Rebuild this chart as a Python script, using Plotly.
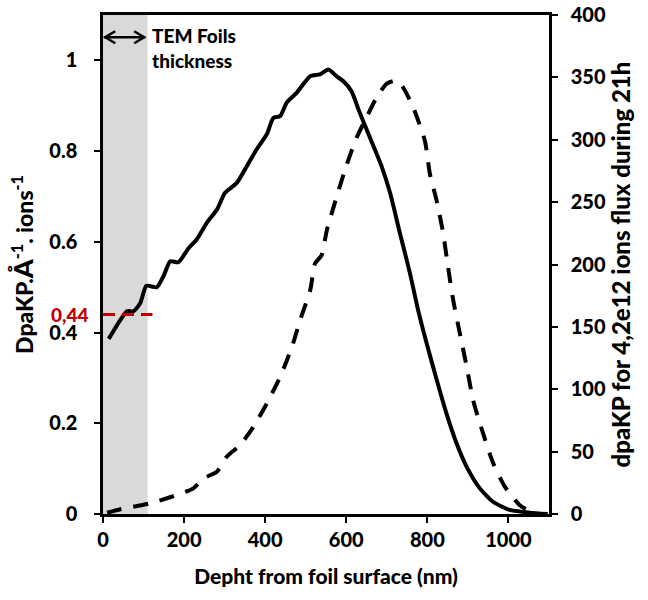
import plotly.graph_objects as go

# --- data ---
depth_dpa = [14, 43, 59, 75, 92, 107, 133, 149, 166, 186, 211, 231, 256, 281, 301, 330, 355, 379, 404,
             420, 437, 453, 478, 511, 535, 556, 576, 593, 613, 630, 650, 687, 708, 732, 757, 777, 798,
             823, 847, 872, 897, 929, 962, 1003, 1052, 1097]
dpa_per_ion = [0.386, 0.428, 0.447, 0.447, 0.465, 0.503, 0.500, 0.524, 0.557, 0.555, 0.586, 0.605, 0.642,
               0.671, 0.708, 0.730, 0.767, 0.804, 0.837, 0.873, 0.877, 0.907, 0.929, 0.965, 0.969, 0.980,
               0.965, 0.954, 0.932, 0.892, 0.848, 0.767, 0.708, 0.620, 0.531, 0.450, 0.377, 0.296, 0.222,
               0.156, 0.104, 0.057, 0.027, 0.009, 0.003, 0.0]

depth_flux = [10, 43, 116, 182, 223, 248, 281, 305, 338, 371, 404, 437, 466, 486, 511, 523, 539, 552, 576,
              601, 626, 650, 675, 700, 724, 740, 765, 794, 806, 823, 839, 851, 864, 880, 897, 913, 937,
              962, 991, 1028, 1055]
dpa_flux = [1.0, 3.8, 8.6, 15.2, 20.6, 28.6, 33.9, 45.9, 55.2, 69.9, 88.6, 109.9, 133.9, 155.3, 179.3,
            200.7, 207.3, 227.3, 254, 280, 302, 318, 334, 345, 347.5, 342, 326, 299, 273, 251, 225, 198,
            171, 145, 118, 91, 65, 41, 22, 7, 2]

foil_thickness = 110       # nm, shaded TEM foil region
ref_level = 0.44           # dpa/A/ion reference level
ref_level_label = "0,44"
ref_x_end = 122

x_ticks = [0, 200, 400, 600, 800, 1000]
y_ticks = [0, 0.2, 0.4, 0.6, 0.8, 1]
y2_ticks = [0, 50, 100, 150, 200, 250, 300, 350, 400]

FONT = "Lato"
RED = "#C00000"
TICKFONT = dict(family=FONT, size=20, color="black", weight=900)
TITLEFONT = dict(family=FONT, size=21, color="black", weight=900)

fig = go.Figure()

fig.add_trace(go.Scatter(x=depth_dpa, y=dpa_per_ion, mode="lines",
                         line=dict(color="black", width=4, shape="spline", smoothing=0.6),
                         showlegend=False, yaxis="y", hoverinfo="skip"))
fig.add_trace(go.Scatter(x=depth_flux, y=dpa_flux, mode="lines",
                         line=dict(color="black", width=4, shape="spline", smoothing=0.6, dash="15px,12px"),
                         showlegend=False, yaxis="y2", hoverinfo="skip"))
fig.add_trace(go.Scatter(x=[0, ref_x_end], y=[ref_level, ref_level], mode="lines",
                         line=dict(color=RED, width=3, dash="12px,7px"),
                         showlegend=False, yaxis="y", cliponaxis=False, hoverinfo="skip"))

# gray foil band
fig.add_shape(type="rect", xref="x", yref="paper", x0=0, x1=foil_thickness, y0=0, y1=1,
              fillcolor="#D9D9D9", line=dict(width=0), layer="below")

# double arrow
arrow_y = 1.051
fig.add_shape(type="line", xref="x", yref="y", x0=3, x1=foil_thickness - 6, y0=arrow_y, y1=arrow_y,
              line=dict(color="black", width=2.5))
fig.add_shape(type="path", xref="x", yref="y", xsizemode="pixel", ysizemode="pixel",
              xanchor=3, yanchor=arrow_y, path="M 11,6 L 1,0 L 11,-6",
              line=dict(color="black", width=2.5))
fig.add_shape(type="path", xref="x", yref="y", xsizemode="pixel", ysizemode="pixel",
              xanchor=foil_thickness - 6, yanchor=arrow_y, path="M -11,6 L -1,0 L -11,-6",
              line=dict(color="black", width=2.5))

fig.add_annotation(x=foil_thickness, y=arrow_y, xref="x", yref="y", xanchor="left", yanchor="top",
                   xshift=2, yshift=15, text="TEM Foils<br>thickness", showarrow=False, align="left",
                   font=dict(family=FONT, size=19, color="black", weight=900))

fig.add_annotation(x=0, y=ref_level, xref="paper", yref="y", xanchor="right", yanchor="middle",
                   xshift=-12, text=ref_level_label, showarrow=False,
                   font=dict(family=FONT, size=19, color=RED, weight=900))

fig.update_layout(
    width=648, height=600,
    margin=dict(l=103, r=99, t=15, b=86, autoexpand=False),
    plot_bgcolor="white", paper_bgcolor="white",
    font=dict(family=FONT, size=20, color="black", weight=900),
    xaxis=dict(range=[0, 1100], tickvals=x_ticks, showgrid=False, zeroline=False, automargin=False,
               showline=True, linecolor="black", linewidth=2.5, mirror=True,
               ticks="outside", ticklen=6, tickwidth=1.5, tickcolor="black", tickfont=TICKFONT,
               title=dict(text="Depht from foil surface (nm)", standoff=20, font=TITLEFONT)),
    yaxis=dict(range=[0, 1.1], tickvals=y_ticks, showgrid=False, zeroline=False, automargin=False,
               showline=True, linecolor="black", linewidth=2.5,
               ticks="outside", ticklen=6, tickwidth=1.5, tickcolor="black", ticklabelstandoff=13,
               tickfont=TICKFONT,
               title=dict(text="DpaKP.<span style=\"font-size:27px\">Å</span><sup>-1</sup>. ions<sup>-1</sup>",
                          standoff=10, font=dict(family=FONT, size=23, color="black", weight=900))),
    yaxis2=dict(range=[0, 400], tickvals=y2_ticks, overlaying="y", side="right", showgrid=False,
                zeroline=False, showline=True, linecolor="black", linewidth=2.5, automargin=False,
                ticks="outside", ticklen=6, tickwidth=1.5, tickcolor="black", ticklabelstandoff=9,
                tickfont=TICKFONT,
                title=dict(text="dpaKP for 4,2e12 ions flux during 21h", standoff=8,
                           font=dict(family=FONT, size=24, color="black", weight=900))),
)

fig.write_html("out.html", post_script="document.body.style.margin='0';",
               config={"displayModeBar": False})
